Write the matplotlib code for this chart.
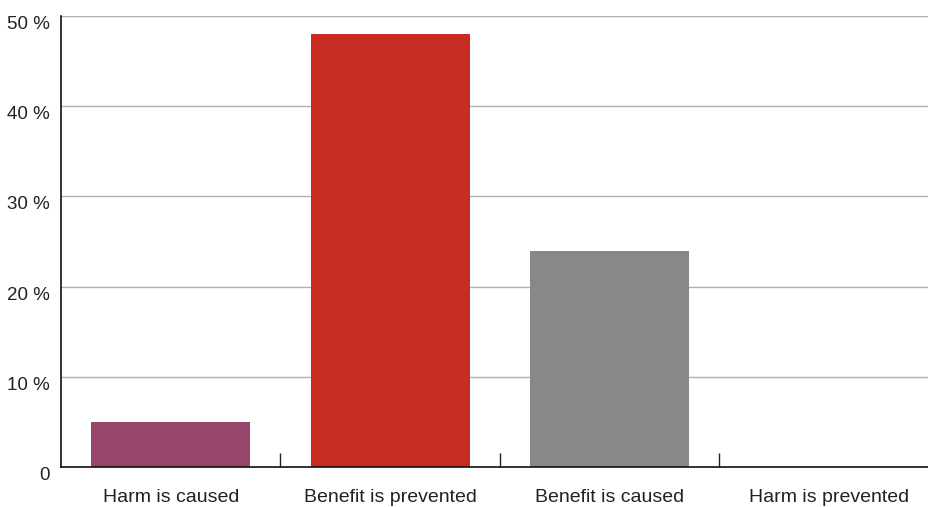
import matplotlib
matplotlib.use("Agg")
import matplotlib.pyplot as plt
from matplotlib.ticker import FixedLocator

plt.rcParams['font.family'] = ['Liberation Sans', 'DejaVu Sans']

categories = ["Harm is caused", "Benefit is prevented", "Benefit is caused", "Harm is prevented"]
values = [5, 48, 24, 0]
colors = ["#96466a", "#c72b22", "#888888", "#888888"]
ytick_vals = [0, 10, 20, 30, 40, 50]
ytick_labels = ["0", "10 %", "20 %", "30 %", "40 %", "50 %"]

W, H = 929, 507
fig = plt.figure(figsize=(W / 100, H / 100), dpi=100)
ax = fig.add_axes([61 / W, 40 / H, 1 - 61 / W, 451 / H])

x = list(range(len(categories)))
ax.bar(x, values, width=0.724, color=colors, zorder=3)

ax.set_ylim(0, 50)
ax.set_xlim(-0.5, (W - 61) / 219.5 - 0.5)

ax.set_yticks(ytick_vals)
ax.set_yticklabels(ytick_labels, fontsize=13.5, color="#222222", va="top")
ax.tick_params(axis="y", length=0, pad=8)
ax.grid(axis="y", color="#b0b0b0", linewidth=1, zorder=0)

ax.set_xticks(x)
ax.set_xticklabels(categories, fontsize=14, color="#222222")
ax.tick_params(axis="x", which="major", length=0, pad=16)
ax.xaxis.set_minor_locator(FixedLocator([0.5, 1.5, 2.5]))
ax.tick_params(axis="x", which="minor", direction="in", length=10, width=1, color="#222222")

for s in ["top", "right"]:
    ax.spines[s].set_visible(False)
ax.spines["left"].set_color("#111111")
ax.spines["bottom"].set_color("#111111")
ax.spines["left"].set_linewidth(1.2)
ax.spines["bottom"].set_linewidth(1.2)
ax.spines["bottom"].set_zorder(4)

fig.savefig("out.png", dpi=100)
